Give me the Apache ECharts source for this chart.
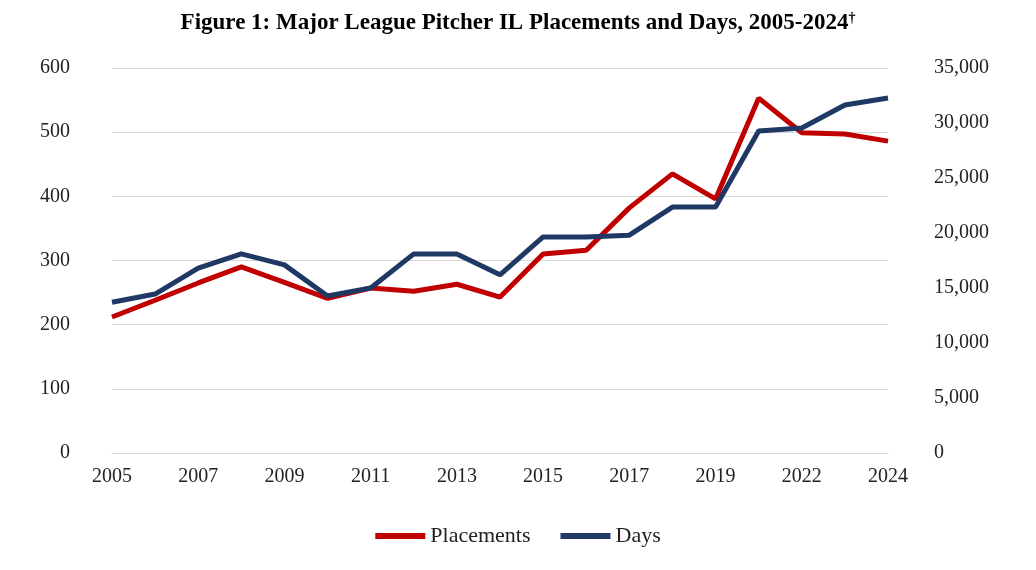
<!DOCTYPE html><html><head><meta charset="utf-8"><script src="https://cdn.jsdelivr.net/npm/echarts@6/dist/echarts.min.js"></script></head><body style="margin:0"><div id="c" style="width:1036px;height:570px"></div><script>
const years=['2005','2006','2007','2008','2009','2010','2011','2012','2013','2014','2015','2016','2017','2018','2019','2021','2022','2023','2024'];
const placements=[212,238,265,290,266,241,257,252,263,243,310,316,382,435,396,553,499,497,486];
const days=[13700,14450,16800,18100,17100,14270,15000,18100,18100,16200,19640,19640,19800,22360,22360,29270,29550,31640,32270];
const f='"Liberation Serif","Times New Roman",serif';
const ch=echarts.init(document.getElementById('c'));
ch.setOption({
title:{text:'{t|Figure 1: Major League Pitcher IL Placements and Days, 2005-2024}{s|†}',left:'center',top:6,textStyle:{rich:{t:{fontFamily:f,fontWeight:'bold',fontSize:23,color:'#000'},s:{fontFamily:f,fontWeight:'bold',fontSize:14,color:'#000',verticalAlign:'top',padding:[0,0,10,0]}}}},
legend:{bottom:18,itemWidth:50,itemHeight:6,itemGap:30,icon:'rect',textStyle:{fontFamily:f,fontSize:22,color:'#222'},data:['Placements','Days']},
grid:{left:112,right:148,top:68,bottom:117},
xAxis:{type:'category',data:years,boundaryGap:false,axisTick:{show:false},axisLine:{lineStyle:{color:'#d9d9d9'}},
 axisLabel:{interval:1,fontFamily:f,fontSize:20,color:'#222',margin:14}},
yAxis:[{type:'value',min:0,max:600,interval:100,axisLabel:{fontFamily:f,fontSize:20,color:'#222',margin:42},splitLine:{lineStyle:{color:'#d9d9d9'}}},
{type:'value',min:0,max:35000,interval:5000,axisLabel:{fontFamily:f,fontSize:20,color:'#222',margin:46,formatter:v=>v.toLocaleString('en-US')},splitLine:{show:false}}],
series:[{name:'Placements',type:'line',data:placements,symbol:'none',lineStyle:{width:5,color:'#c00000'},itemStyle:{color:'#c00000'}},
{name:'Days',type:'line',yAxisIndex:1,data:days,symbol:'none',lineStyle:{width:5,color:'#1f3864'},itemStyle:{color:'#1f3864'}}]
});
ch.setOption({grid:{left:112,right:148}});
</script></body></html>
